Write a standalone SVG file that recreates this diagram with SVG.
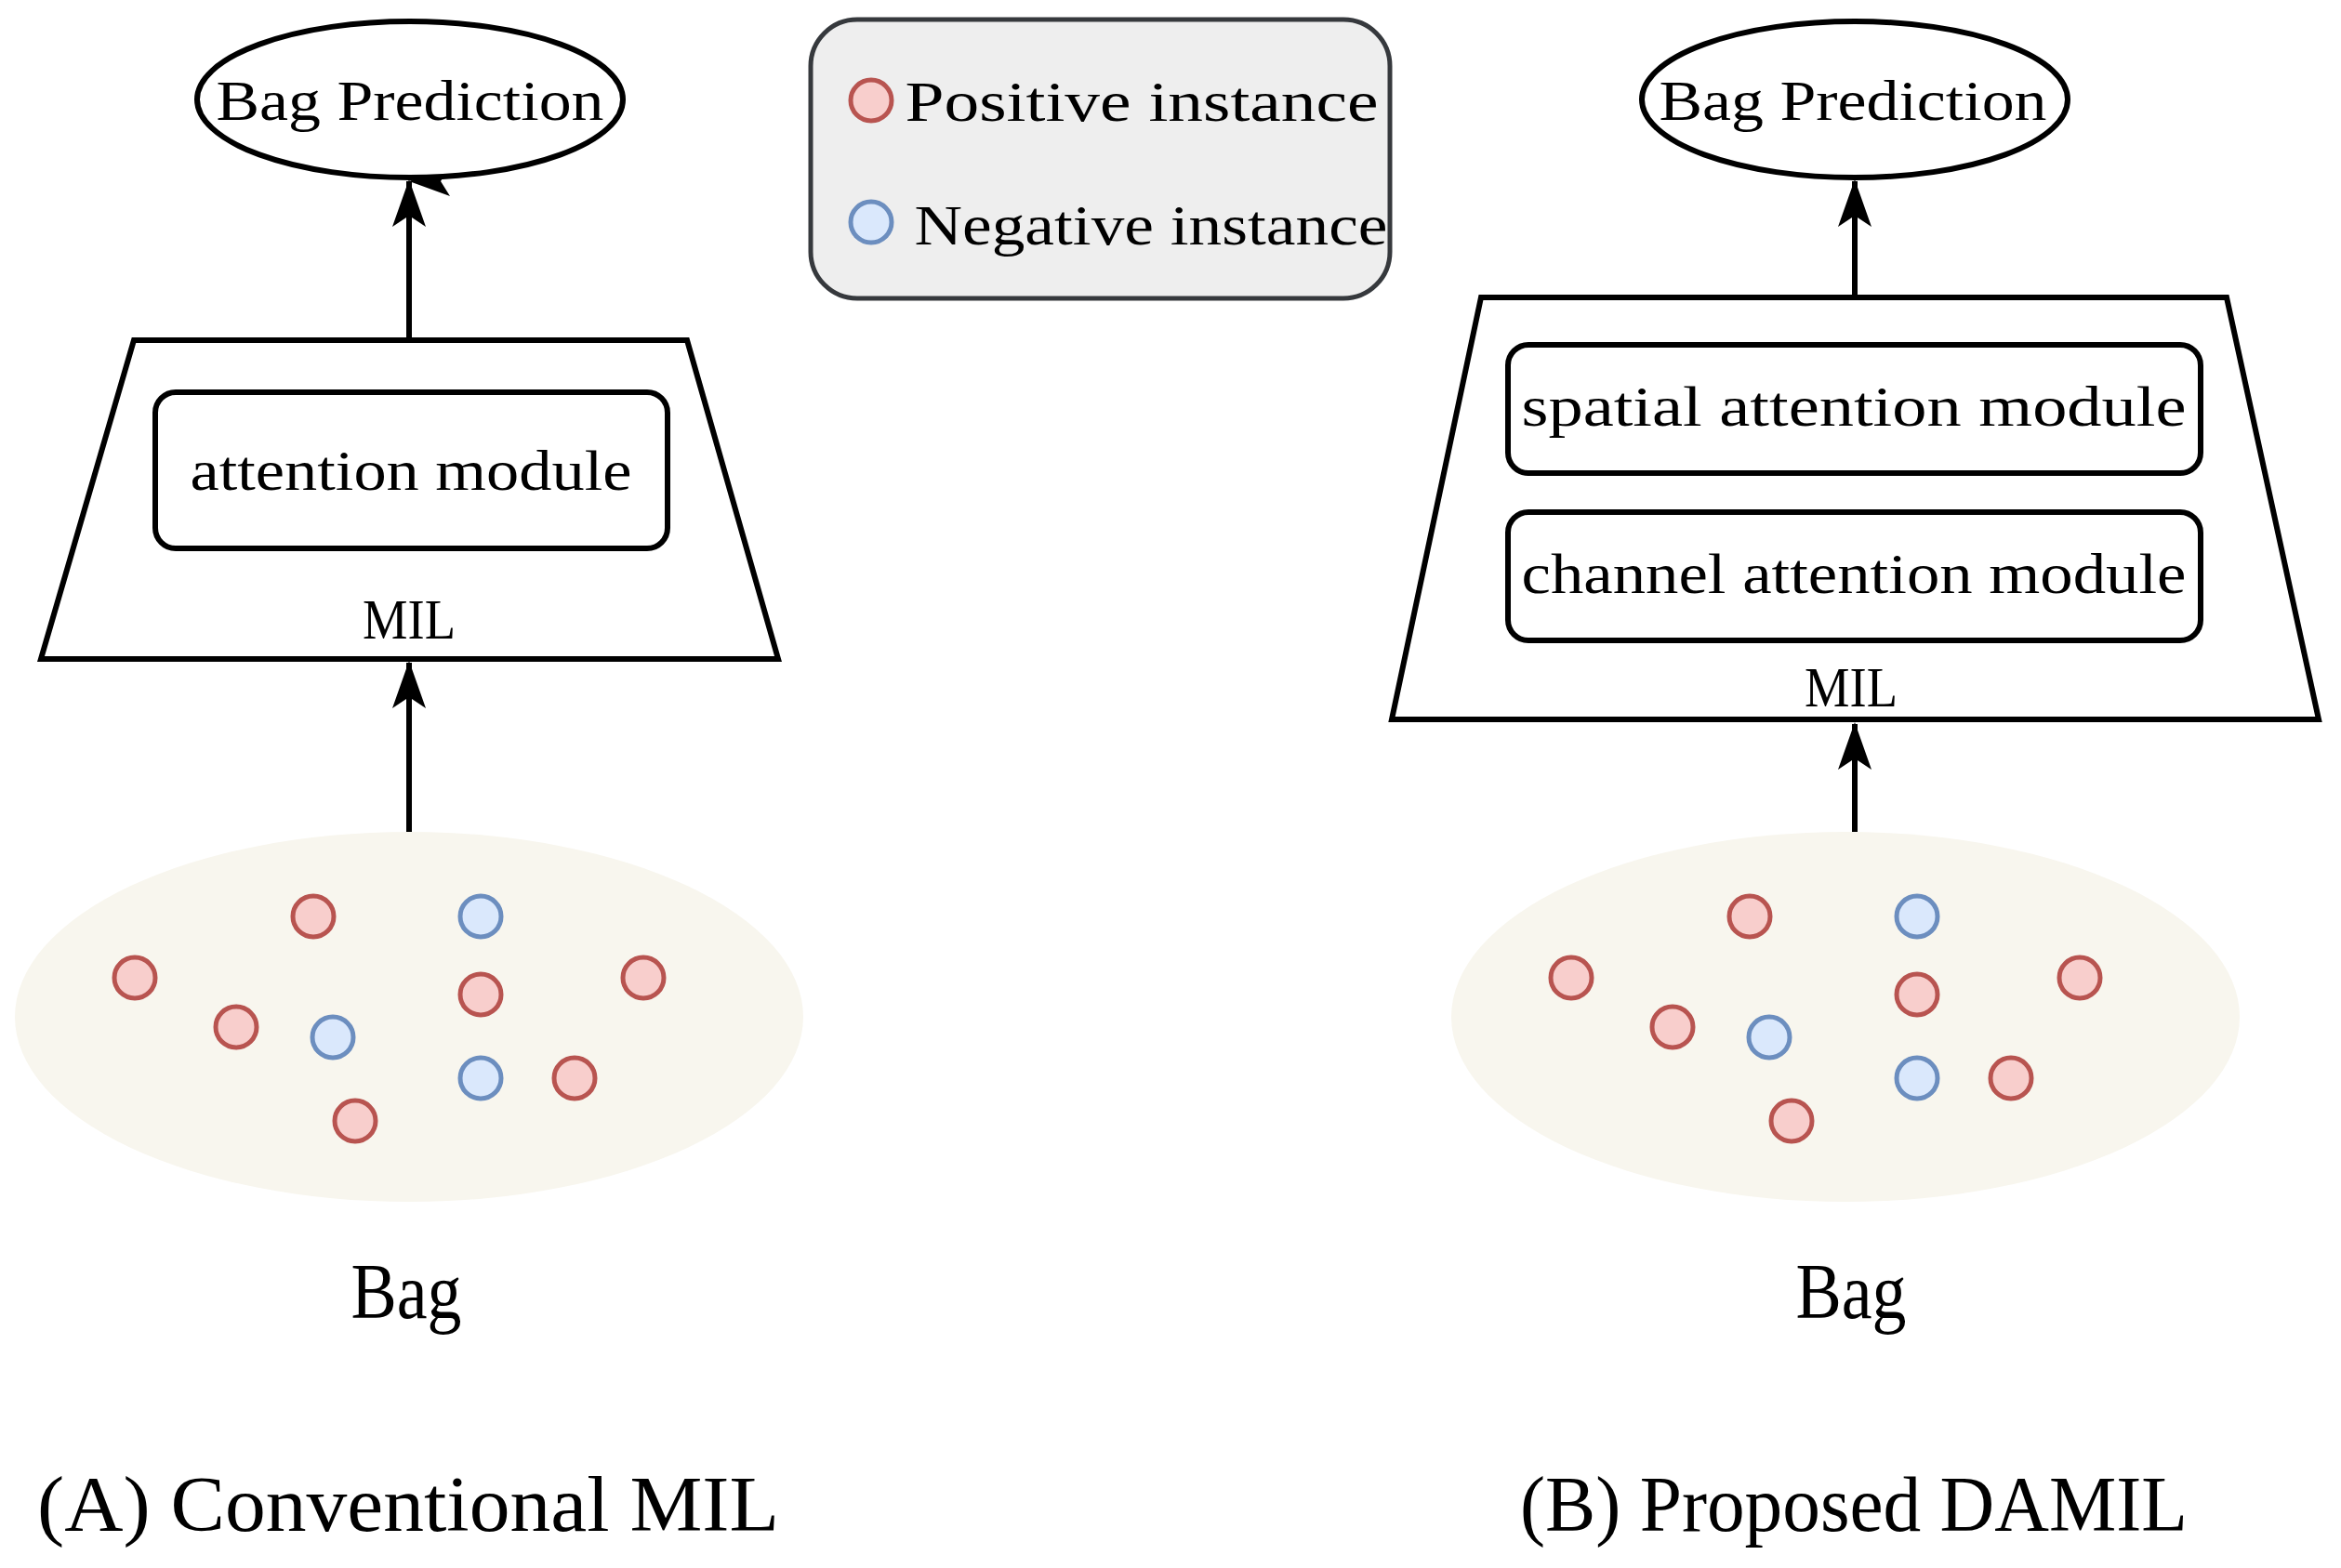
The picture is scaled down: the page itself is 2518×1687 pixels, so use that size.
<svg xmlns="http://www.w3.org/2000/svg" width="2518" height="1687" viewBox="0 0 2518 1687">
<style>
.t{font-family:"Liberation Serif",serif;fill:#000;text-anchor:middle}
.s{font-size:62px}
.b{font-size:84px}
.k{fill:none;stroke:#000;stroke-width:6}
.w{fill:#fff;stroke:#000;stroke-width:6}
.p{fill:#f8cecc;stroke:#b85450;stroke-width:5}
.n{fill:#dae8fc;stroke:#6c8ebf;stroke-width:5}
.bag{fill:#f8f6ee}
</style>
<defs>
<marker id="ah" markerUnits="userSpaceOnUse" markerWidth="40" markerHeight="50" viewBox="0 0 40 50" refX="20" refY="2" orient="auto-start-reverse">
<path d="M20 2 L36 46 L20 36 L4 46 Z" fill="#000"/>
</marker>
</defs>
<rect width="2518" height="1687" fill="#fff"/>
<g id="connectors">
<line class="k" x1="440" y1="366" x2="440" y2="195" marker-end="url(#ah)" transform=""/>
<line class="k" x1="440" y1="895" x2="440" y2="713"/>
<line class="k" x1="1995" y1="320" x2="1995" y2="195"/>
<line class="k" x1="1995" y1="895" x2="1995" y2="779"/>
</g>
<g id="bag-left">
<ellipse class="bag" cx="440" cy="1094" rx="424" ry="199"/>
<circle class="p" cx="337" cy="986" r="22"/><circle class="p" cx="145" cy="1052" r="22"/><circle class="p" cx="254" cy="1105" r="22"/><circle class="p" cx="517" cy="1070" r="22"/><circle class="p" cx="692" cy="1052" r="22"/><circle class="p" cx="618" cy="1160" r="22"/><circle class="p" cx="382" cy="1206" r="22"/>
<circle class="n" cx="517" cy="986" r="22"/><circle class="n" cx="358" cy="1116" r="22"/><circle class="n" cx="517" cy="1160" r="22"/>
<text class="t b" x="437" y="1418" textLength="119" lengthAdjust="spacingAndGlyphs">Bag</text>
</g>
<g id="bag-right">
<ellipse class="bag" cx="1985" cy="1094" rx="424" ry="199"/>
<circle class="p" cx="1882" cy="986" r="22"/><circle class="p" cx="1690" cy="1052" r="22"/><circle class="p" cx="1799" cy="1105" r="22"/><circle class="p" cx="2062" cy="1070" r="22"/><circle class="p" cx="2237" cy="1052" r="22"/><circle class="p" cx="2163" cy="1160" r="22"/><circle class="p" cx="1927" cy="1206" r="22"/>
<circle class="n" cx="2062" cy="986" r="22"/><circle class="n" cx="1903" cy="1116" r="22"/><circle class="n" cx="2062" cy="1160" r="22"/>
<text class="t b" x="1991" y="1418" textLength="119" lengthAdjust="spacingAndGlyphs">Bag</text>
</g>
<g id="pred-left">
<ellipse class="w" cx="441" cy="107" rx="229" ry="84"/>
<text class="t s" x="441" y="129" textLength="417" lengthAdjust="spacingAndGlyphs">Bag Prediction</text>
</g>
<g id="mil-left">
<path class="w" d="M144 366 L739 366 L837 709 L44 709 Z"/>
<rect class="w" x="167" y="422" width="551" height="168" rx="22"/>
<text class="t s" x="442" y="527" textLength="475" lengthAdjust="spacingAndGlyphs">attention module</text>
<text class="t s" x="440" y="687" textLength="100" lengthAdjust="spacingAndGlyphs">MIL</text>
</g>
<g id="pred-right">
<ellipse class="w" cx="1995" cy="107" rx="229" ry="84"/>
<text class="t s" x="1993" y="129" textLength="417" lengthAdjust="spacingAndGlyphs">Bag Prediction</text>
</g>
<g id="mil-right">
<path class="w" d="M1593 320 L2395 320 L2494 774 L1497 774 Z"/>
<rect class="w" x="1622" y="371" width="745" height="138" rx="22"/>
<text class="t s" x="1994" y="458" textLength="715" lengthAdjust="spacingAndGlyphs">spatial attention module</text>
<rect class="w" x="1622" y="551" width="745" height="138" rx="22"/>
<text class="t s" x="1994" y="638" textLength="715" lengthAdjust="spacingAndGlyphs">channel attention module</text>
<text class="t s" x="1991" y="760" textLength="100" lengthAdjust="spacingAndGlyphs">MIL</text>
</g>
<g id="legend">
<rect x="872" y="21" width="623" height="300" rx="50" fill="#eeeeee" stroke="#36393d" stroke-width="5"/>
<circle class="p" cx="937" cy="108" r="22"/>
<text class="t s" x="1228" y="130" textLength="509" lengthAdjust="spacingAndGlyphs">Positive instance</text>
<circle class="n" cx="937" cy="239" r="22"/>
<text class="t s" x="1238" y="263" textLength="509" lengthAdjust="spacingAndGlyphs">Negative instance</text>
</g>
<g id="captions">
<text class="t b" x="439" y="1647" textLength="798" lengthAdjust="spacingAndGlyphs">(A) Conventional MIL</text>
<text class="t b" x="1994" y="1647" textLength="718" lengthAdjust="spacingAndGlyphs">(B) Proposed DAMIL</text>
</g>
<g id="arrowheads">
<path d="M440 193 L458 244 L440 232 L422 244 Z"/>
<path d="M440 711 L458 762 L440 750 L422 762 Z"/>
<path d="M1995 193 L2013 244 L1995 232 L1977 244 Z"/>
<path d="M1995 777 L2013 828 L1995 816 L1977 828 Z"/>
</g>
</svg>
